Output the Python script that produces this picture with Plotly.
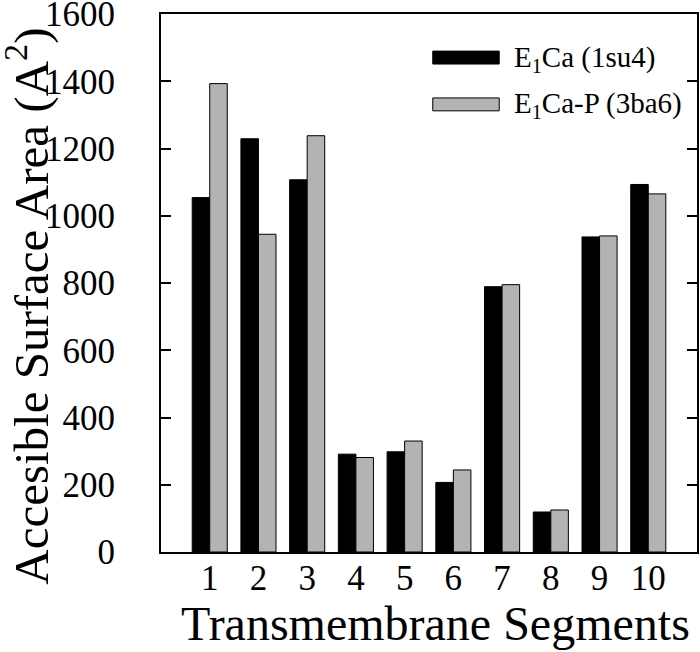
import plotly.graph_objects as go

segments = [1, 2, 3, 4, 5, 6, 7, 8, 9, 10]
e1ca = [1054, 1229, 1107, 291, 298, 207, 789, 119, 937, 1093]
e1cap = [1393, 945, 1238, 281, 330, 244, 795, 125, 940, 1065]
series_names = ["E<sub>1</sub>Ca (1su4)", "E<sub>1</sub>Ca-P (3ba6)"]
y_ticks = [0, 200, 400, 600, 800, 1000, 1200, 1400, 1600]
x_title = "Transmembrane Segments"
y_title = "Accesible Surface Area (A<sup>2</sup>)"

FONT = "Liberation Serif, Times New Roman, serif"

fig = go.Figure()
fig.add_trace(go.Bar(x=segments, y=e1ca, name=series_names[0],
                     marker=dict(color="black", line=dict(color="black", width=1))))
fig.add_trace(go.Bar(x=segments, y=e1cap, name=series_names[1],
                     marker=dict(color="#b3b3b3", line=dict(color="black", width=1))))

# custom legend (wide swatches)
fig.add_shape(type="rect", xref="paper", yref="paper", x0=0.507, x1=0.631, y0=0.907, y1=0.931,
              fillcolor="black", line=dict(color="black", width=1))
fig.add_shape(type="rect", xref="paper", yref="paper", x0=0.507, x1=0.631, y0=0.820, y1=0.844,
              fillcolor="#b3b3b3", line=dict(color="black", width=1))
fig.add_annotation(xref="paper", yref="paper", x=0.655, y=0.917, text=series_names[0],
                   showarrow=False, xanchor="left", yanchor="middle",
                   font=dict(family=FONT, size=29, color="black"))
fig.add_annotation(xref="paper", yref="paper", x=0.655, y=0.830, text=series_names[1],
                   showarrow=False, xanchor="left", yanchor="middle",
                   font=dict(family=FONT, size=29, color="black"))

# axis titles
fig.add_annotation(xref="paper", yref="paper", x=0.513, y=-0.132, text=x_title,
                   showarrow=False, xanchor="center", yanchor="middle",
                   font=dict(family=FONT, size=48, color="black"))
fig.add_annotation(xref="paper", yref="paper", x=-0.248, y=0.456, text=y_title, textangle=-90,
                   showarrow=False, xanchor="center", yanchor="middle",
                   font=dict(family=FONT, size=49, color="black"))

fig.update_layout(
    width=700, height=652,
    margin=dict(l=161, r=3, t=14, b=100),
    paper_bgcolor="white", plot_bgcolor="white",
    barmode="group", bargap=0.28, bargroupgap=0,
    showlegend=False,
    font=dict(family=FONT, color="black"),
)
fig.update_xaxes(
    range=[0, 11], tickmode="array", tickvals=segments, ticktext=[str(s) for s in segments],
    ticks="", showgrid=False, zeroline=False, automargin=False,
    showline=True, linecolor="black", linewidth=2, mirror=True,
    ticklabelstandoff=-6, ticklabeloverflow="allow",
    tickfont=dict(family=FONT, size=35, color="black"),
)
fig.update_yaxes(
    range=[0, 1600], tickmode="array", tickvals=y_ticks, ticktext=[str(v) for v in y_ticks],
    ticks="inside", ticklen=10, tickwidth=2, tickcolor="black",
    showgrid=False, zeroline=False, automargin=False,
    showline=True, linecolor="black", linewidth=2, mirror="ticks",
    ticklabelstandoff=37, ticklabeloverflow="allow",
    tickfont=dict(family=FONT, size=35, color="black"),
)

# remove the browser's default body margin so the figure fills the window exactly
fig.write_html("out.html", config={"displayModeBar": False},
               post_script="document.body.style.margin='0';document.body.style.overflow='hidden';")
